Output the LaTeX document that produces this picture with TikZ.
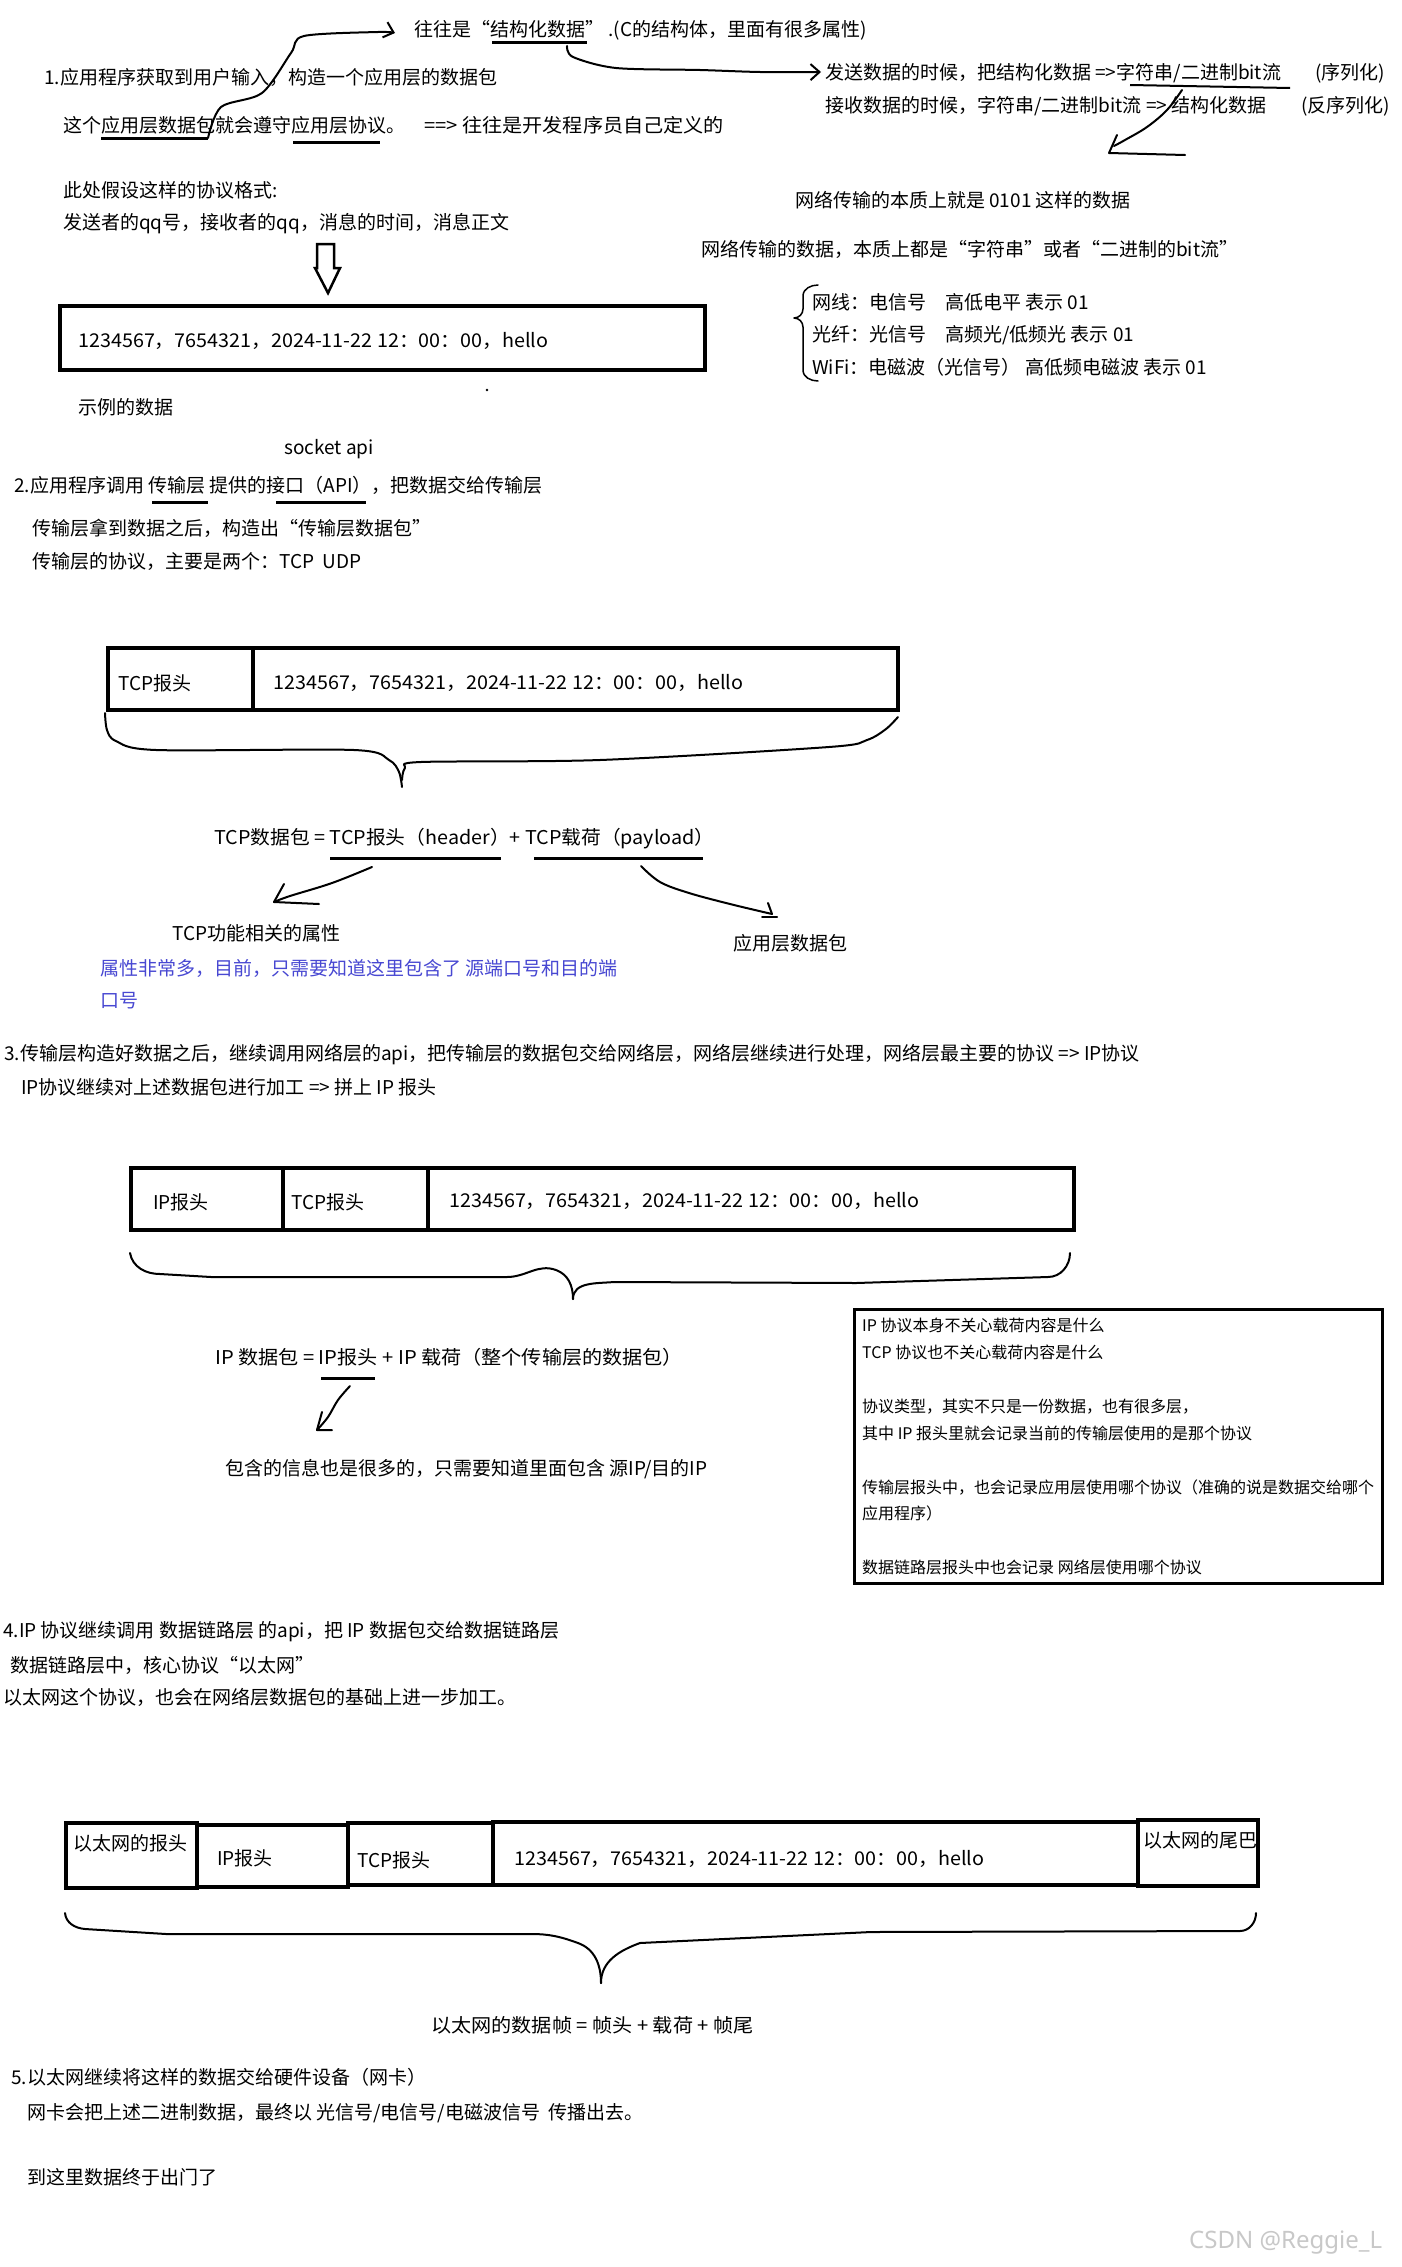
\documentclass[tikz,border=0pt]{standalone}
\usepackage{fontspec}
\setmainfont{Noto Sans CJK SC}
\newfontfamily\datfont{Noto Sans CJK SC}[FakeStretch=1.04]
\newfontfamily\widefont{Noto Sans CJK SC}[FakeStretch=1.06]
\newfontfamily\wmfont{Noto Sans}
\usetikzlibrary{arrows.meta}
\definecolor{noteblue}{RGB}{72,72,210}
\definecolor{wmgray}{RGB}{200,200,200}
\begin{document}
\begin{tikzpicture}[x=1pt,y=-1pt,
  txt/.style={anchor=west,inner sep=0pt,font=\fontsize{19}{22}\selectfont,text height=16.7pt,text depth=2.3pt},
  dtxt/.style={txt,font=\datfont\fontsize{19}{22}\selectfont},
  wtxt/.style={txt,font=\widefont\fontsize{19}{22}\selectfont},
  smalltxt/.style={anchor=west,inner sep=0pt,font=\fontsize{16}{19}\selectfont,text height=14.1pt,text depth=1.9pt},
  hand/.style={line width=2pt,line cap=round,line join=round},
  thinhand/.style={line width=1.5pt,line cap=round,line join=round},
  uline/.style={line width=3pt},
  boxln/.style={line width=3.5pt},
  barb/.style={-{Straight Barb[length=9pt,width=16pt]}},
]
\fill[white] (0,0) rectangle (1401,2267);
\useasboundingbox (0,0) rectangle (1401,2267);

% ---------- section 1 ----------
\node[txt] (t1) at (414,29) {往往是“结构化数据” .(C的结构体，里面有很多属性)};
\node[txt] (t2) at (44,77) {1.应用程序获取到用户输入，构造一个应用层的数据包};
\node[txt] (t3) at (63,125) {这个应用层数据包就会遵守应用层协议。};
\node[wtxt] (t3b) at (424,125) {==> 往往是开发程序员自己定义的};
\node[txt] (t4) at (825,72) {发送数据的时候，把结构化数据 =>字符串/二进制bit流};
\node[txt] (t4b) at (1315,72) {(序列化)};
\node[txt] (t5) at (825,105) {接收数据的时候，字符串/二进制bit流 => 结构化数据};
\node[txt] (t5b) at (1301,105) {(反序列化)};

\draw[uline] (492,43) -- (587,43);
\draw[uline] (101,138) -- (208,138);
\draw[uline] (293,142) -- (380,142);
\draw[line width=2pt] (1130,85) -- (1290,88);

\coordinate (uA) at (567,46);
\coordinate (tipA) at (821,72);
\coordinate (uB) at (208,138);
\coordinate (tipB) at (395,33);
\coordinate (uC) at (1182,90);

\draw[hand,barb] plot[smooth,tension=0.5] coordinates {(uA) (573,57) (616,68) (700,70) (760,72) (tipA)};
\draw[hand,barb] plot[smooth,tension=0.5] coordinates {(uB) (221,107) (262,93) (291,53) (304,36) (378,32) (tipB)};
\draw[hand] plot[smooth,tension=0.6] coordinates {(uC) (1167,110) (1147,127) (1125,140) (1114,146)};
\draw[hand] (1117,135) -- (1109,153) -- (1185,155);

\node[txt] (t6) at (63,190) {此处假设这样的协议格式:};
\node[txt] (t7) at (63,222) {发送者的qq号，接收者的qq，消息的时间，消息正文};
\draw[line width=2.5pt,line join=miter] (317,244) -- (334,244) -- (334,268) -- (340,268) -- (328,293) -- (315,268) -- (317,268) -- cycle;

\draw[boxln] (60,306) rectangle (705,370);
\node[dtxt] (d1) at (78,340) {1234567，7654321，2024-11-22 12：00：00，hello};
\fill (487,390) circle (1.3);
\node[txt] (t8) at (78,407) {示例的数据};

\node[txt] (t9) at (795,200) {网络传输的本质上就是 0101 这样的数据};
\node[txt] (t10) at (701,249) {网络传输的数据，本质上都是“字符串”或者“二进制的bit流”};
\draw[thinhand] (818,285) to[out=180,in=90] (803,296) -- (803,309) to[out=-90,in=0] (794,318) to[out=0,in=90] (803,327) -- (803,370) to[out=-90,in=180] (818,381);
\node[txt] (t11a) at (812,302) {网线：电信号\quad 高低电平 表示 01};
\node[txt] (t11b) at (812,334) {光纤：光信号\quad 高频光/低频光 表示 01};
\node[txt] (t11c) at (812,367) {WiFi：电磁波（光信号） 高低频电磁波 表示 01};

% ---------- section 2 ----------
\node[txt] (sock) at (284,447) {socket api};
\node[txt] (t12) at (14,485) {2.应用程序调用 传输层 提供的接口（API），把数据交给传输层};
\draw[uline] (152,502) -- (208,502);
\draw[uline] (276,502) -- (366,502);
\node[txt] (t13) at (32,528) {传输层拿到数据之后，构造出“传输层数据包”};
\node[txt] (t14) at (32,561) {传输层的协议，主要是两个：TCP\ \ UDP};

\draw[boxln] (108,648) rectangle (898,710);
\draw[boxln] (253,648) -- (253,710);
\node[txt] (h2) at (118,683) {TCP报头};
\node[dtxt] (d2) at (273,682) {1234567，7654321，2024-11-22 12：00：00，hello};

\draw[hand] plot[smooth,tension=0.5] coordinates {(105,713) (107,730) (116,741) (156,750) (354,750) (389,760) (399,772) (402,787)};
\draw[hand] plot[smooth,tension=0.5] coordinates {(402,780) (405,768) (421,762) (600,760) (829,747) (867,740) (886,729) (898,717)};

\node[dtxt] (t15) at (214,837) {TCP数据包 = TCP报头（header）+ TCP载荷（payload）};
\draw[uline] (330,858) -- (501,858);
\draw[uline] (534,858) -- (703,858);
\coordinate (hdA) at (372,867);
\coordinate (hdT) at (274,902);
\draw[hand] plot[smooth,tension=0.6] coordinates {(hdA) (332,883) (290,896) (hdT)};
\draw[hand] (284,884) -- (hdT) -- (319,904);
\coordinate (plA) at (641,866);
\coordinate (plT) at (772,914);
\draw[hand] plot[smooth,tension=0.6] coordinates {(plA) (660,882) (689,893) (730,904) (plT)};
\draw[hand] (768,903) -- (plT);
\draw[hand] (762,917) -- (777,917);
\node[txt] (t16) at (172,933) {TCP功能相关的属性};
\node[txt] (t17) at (733,943) {应用层数据包};
\node[txt,text=noteblue] (t18) at (100,968) {属性非常多，目前，只需要知道这里包含了 源端口号和目的端};
\node[txt,text=noteblue] (t18b) at (100,1000) {口号};

% ---------- section 3 ----------
\node[txt] (t19) at (4,1053) {3.传输层构造好数据之后，继续调用网络层的api，把传输层的数据包交给网络层，网络层继续进行处理，网络层最主要的协议 => IP协议};
\node[txt] (t20) at (21,1087) {IP协议继续对上述数据包进行加工 => 拼上 IP 报头};

\draw[boxln] (131,1168) rectangle (1074,1230);
\draw[boxln] (283,1166) -- (283,1230);
\draw[boxln] (428,1166) -- (428,1230);
\node[txt] (h3a) at (153,1202) {IP报头};
\node[txt] (h3b) at (291,1202) {TCP报头};
\node[dtxt] (d3) at (449,1200) {1234567，7654321，2024-11-22 12：00：00，hello};

\draw[hand] (130,1253) to[out=-80,in=180] (160,1274) -- (211,1277) -- (507,1277) to[out=0,in=160] (556,1270) to[out=-20,in=90] (573,1299);
\draw[hand] (573,1299) to[out=90,in=185] (614,1282) -- (856,1283) -- (1048,1277) to[out=0,in=-90] (1070,1253);

\node[wtxt] (t21) at (215,1357) {IP 数据包 = IP报头 + IP 载荷（整个传输层的数据包）};
\draw[uline] (321,1378) -- (375,1378);
\coordinate (ipA) at (350,1386);
\coordinate (ipT) at (317,1430);
\draw[hand] plot[smooth,tension=0.6] coordinates {(ipA) (338,1400) (328,1417) (ipT)};
\draw[hand] (322,1412) -- (ipT) -- (332,1430);
\node[txt] (t22) at (225,1468) {包含的信息也是很多的，只需要知道里面包含 源IP/目的IP};

\draw[line width=3pt] (854,1309) rectangle (1382,1583);
\node[smalltxt] (n1) at (862,1325) {IP 协议本身不关心载荷内容是什么};
\node[smalltxt] (n2) at (862,1352) {TCP 协议也不关心载荷内容是什么};
\node[smalltxt] (n3) at (862,1406) {协议类型，其实不只是一份数据，也有很多层，};
\node[smalltxt] (n4) at (862,1433) {其中 IP 报头里就会记录当前的传输层使用的是那个协议};
\node[smalltxt] (n5) at (862,1487) {传输层报头中，也会记录应用层使用哪个协议（准确的说是数据交给哪个};
\node[smalltxt] (n6) at (862,1513) {应用程序）};
\node[smalltxt] (n7) at (862,1567) {数据链路层报头中也会记录 网络层使用哪个协议};

% ---------- section 4 ----------
\node[txt] (t23) at (3,1630) {4.IP 协议继续调用 数据链路层 的api，把 IP 数据包交给数据链路层};
\node[txt] (t24) at (10,1665) {数据链路层中，核心协议“以太网”};
\node[txt] (t25) at (3,1697) {以太网这个协议，也会在网络层数据包的基础上进一步加工。};

\draw[boxln] (66,1823) rectangle (197,1888);
\draw[boxln] (197,1825) rectangle (348,1887);
\draw[boxln] (348,1823) rectangle (493,1885);
\draw[boxln] (493,1822) rectangle (1138,1885);
\draw[boxln] (1138,1820) rectangle (1258,1886);
\node[txt] (e1) at (73,1843) {以太网的报头};
\node[txt] (e2) at (217,1858) {IP报头};
\node[txt] (e3) at (357,1860) {TCP报头};
\node[dtxt] (e4) at (514,1858) {1234567，7654321，2024-11-22 12：00：00，hello};
\node[txt] (e5) at (1143,1840) {以太网的尾巴};

\draw[hand] (65,1913) to[out=-85,in=175] (85,1929) -- (166,1934) -- (531,1934) to[out=0,in=160] (578,1943) to[out=-20,in=90] (601,1983);
\draw[hand] (601,1983) to[out=90,in=200] (640,1943) -- (871,1932) -- (1240,1931) to[out=0,in=-90] (1256,1913);

\node[wtxt] (t26) at (431,2025) {以太网的数据帧 = 帧头 + 载荷 + 帧尾};

% ---------- section 5 ----------
\node[txt] (t27) at (11,2077) {5.以太网继续将这样的数据交给硬件设备（网卡）};
\node[txt] (t28) at (27,2112) {网卡会把上述二进制数据，最终以 光信号/电信号/电磁波信号\ \ 传播出去。};
\node[txt] (t29) at (27,2177) {到这里数据终于出门了};

\node[anchor=west,inner sep=0pt,text=wmgray,font=\wmfont\fontsize{24}{28}\selectfont] (wm) at (1189,2243) {CSDN @Reggie\_L};
\end{tikzpicture}
\end{document}
